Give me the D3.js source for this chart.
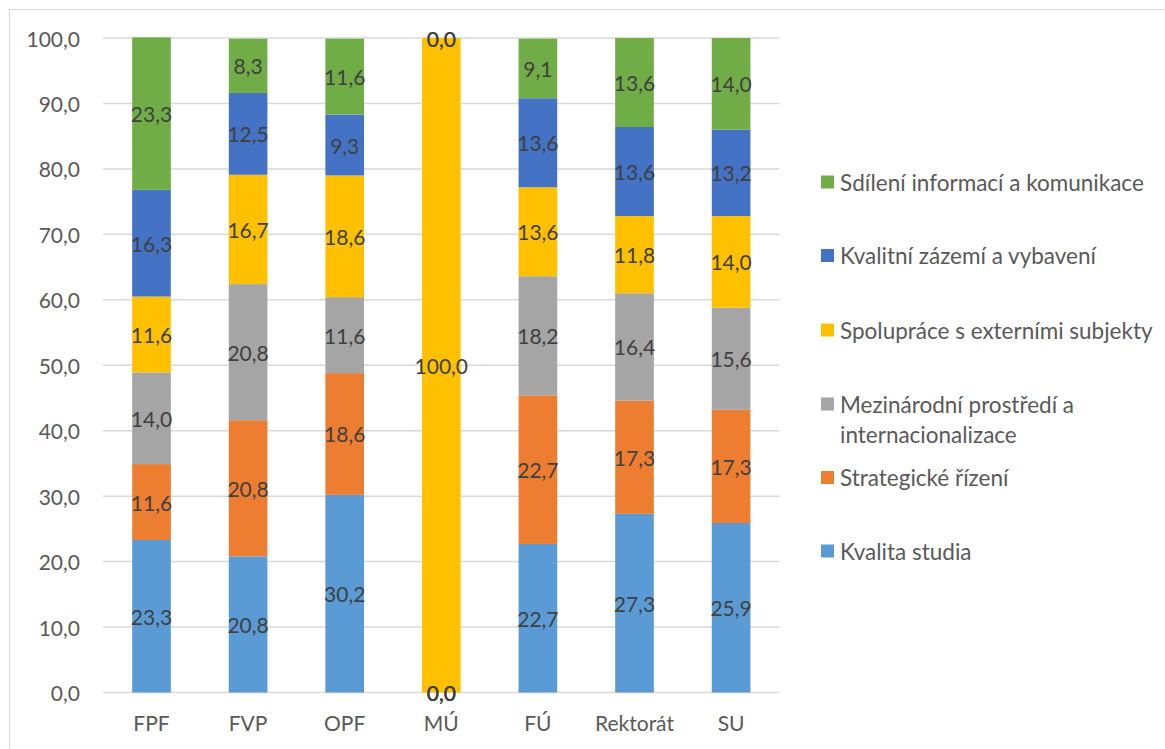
<!DOCTYPE html>
<html>
<head>
<meta charset="utf-8">
<script src="https://cdn.jsdelivr.net/npm/d3@7"></script>
<style>
  html, body { margin: 0; padding: 0; background: #fff; }
  svg { display: block; }
  text { font-family: Lato, "Open Sans", sans-serif; }
</style>
</head>
<body>
<svg id="chart" width="1165" height="749"></svg>
<script>
const categories = ["FPF", "FVP", "OPF", "MÚ", "FÚ", "Rektorát", "SU"];
const seriesNames = [
  "Kvalita studia",
  "Strategické řízení",
  "Mezinárodní prostředí a internacionalizace",
  "Spolupráce s externími subjekty",
  "Kvalitní zázemí a vybavení",
  "Sdílení informací a komunikace"
];
const kvalitaStudia      = [23.3, 20.8, 30.2, 0.0, 22.7, 27.3, 25.9];
const strategickeRizeni  = [11.6, 20.8, 18.6, 0.0, 22.7, 17.3, 17.3];
const mezinarodni        = [14.0, 20.8, 11.6, 0.0, 18.2, 16.4, 15.6];
const spoluprace         = [11.6, 16.7, 18.6, 100.0, 13.6, 11.8, 14.0];
const zazemi             = [16.3, 12.5, 9.3, 0.0, 13.6, 13.6, 13.2];
const sdileni            = [23.3, 8.3, 11.6, 0.0, 9.1, 13.6, 14.0];
const yTicks = [0, 10, 20, 30, 40, 50, 60, 70, 80, 90, 100];

const seriesValues = [kvalitaStudia, strategickeRizeni, mezinarodni, spoluprace, zazemi, sdileni];
const colors = ["#5B9BD5", "#ED7D31", "#A5A5A5", "#FFC000", "#4472C4", "#70AD47"];

const fmt = v => v.toFixed(1).replace(".", ",");
const FONT = 21;
const LEGEND_FONT = 22.5;

const svg = d3.select("#chart");

// outer border
svg.append("rect").attr("x", 9.5).attr("y", 9.5).attr("width", 1170).attr("height", 760)
  .attr("fill", "none").attr("stroke", "#d9d9d9").attr("stroke-width", 1);

const x0 = 103.2, x1 = 779.4, yBottom = 692.5, yTop = 38;
const x = d3.scaleBand().domain(categories).range([x0, x1]).paddingInner(0.6).paddingOuter(0.3);
const y = d3.scaleLinear().domain([0, 100]).range([yBottom, yTop]);

// gridlines
svg.append("g").selectAll("line").data(yTicks).join("line")
  .attr("x1", x0).attr("x2", x1)
  .attr("y1", d => y(d)).attr("y2", d => y(d))
  .attr("stroke", "#d9d9d9").attr("stroke-width", 1.5);

// y labels
svg.append("g").selectAll("text").data(yTicks).join("text")
  .attr("x", 80).attr("y", d => y(d))
  .attr("text-anchor", "end").attr("dominant-baseline", "central")
  .attr("fill", "#595959").attr("font-size", FONT)
  .text(d => fmt(d));

// x labels
svg.append("g").selectAll("text").data(categories).join("text")
  .attr("x", d => x(d) + x.bandwidth() / 2).attr("y", 722)
  .attr("text-anchor", "middle").attr("dominant-baseline", "central")
  .attr("fill", "#595959").attr("font-size", FONT)
  .text(d => d);

// stacked data
const table = categories.map((c, i) => {
  const o = { cat: c };
  seriesNames.forEach((s, j) => { o[s] = seriesValues[j][i]; });
  return o;
});
const stacked = d3.stack().keys(seriesNames)(table);

const layers = svg.append("g").selectAll("g").data(stacked).join("g")
  .attr("fill", (d, i) => colors[i]);
layers.selectAll("rect").data(d => d).join("rect")
  .attr("x", d => x(d.data.cat))
  .attr("width", x.bandwidth())
  .attr("y", d => y(d[1]))
  .attr("height", d => y(d[0]) - y(d[1]));

// data labels
const lbl = svg.append("g");
stacked.forEach((layer, i) => {
  lbl.append("g").selectAll("text").data(layer).join("text")
    .attr("x", d => x(d.data.cat) + x.bandwidth() / 2)
    .attr("y", d => y((d[0] + d[1]) / 2))
    .attr("text-anchor", "middle").attr("dominant-baseline", "central")
    .attr("fill", "#404040").attr("font-size", FONT)
    .text(d => fmt(d.data[layer.key]));
});

// legend
const legendRows = [
  { s: 5, y: 182, lines: ["Sdílení informací a komunikace"] },
  { s: 4, y: 255.5, lines: ["Kvalitní zázemí a vybavení"] },
  { s: 3, y: 330, lines: ["Spolupráce s externími subjekty"] },
  { s: 2, y: 404, lines: ["Mezinárodní prostředí a", "internacionalizace"] },
  { s: 1, y: 477.5, lines: ["Strategické řízení"] },
  { s: 0, y: 551, lines: ["Kvalita studia"] }
];
const lg = svg.append("g").selectAll("g").data(legendRows).join("g");
lg.append("rect").attr("x", 821).attr("y", d => d.y - 6.5).attr("width", 13).attr("height", 13)
  .attr("fill", d => colors[d.s]);
lg.each(function(d) {
  const g = d3.select(this);
  d.lines.forEach((t, k) => {
    g.append("text").attr("x", 840).attr("y", d.y + k * 30)
      .attr("dominant-baseline", "central")
      .attr("fill", "#595959").attr("font-size", LEGEND_FONT)
      .text(t);
  });
});
</script>
</body>
</html>
